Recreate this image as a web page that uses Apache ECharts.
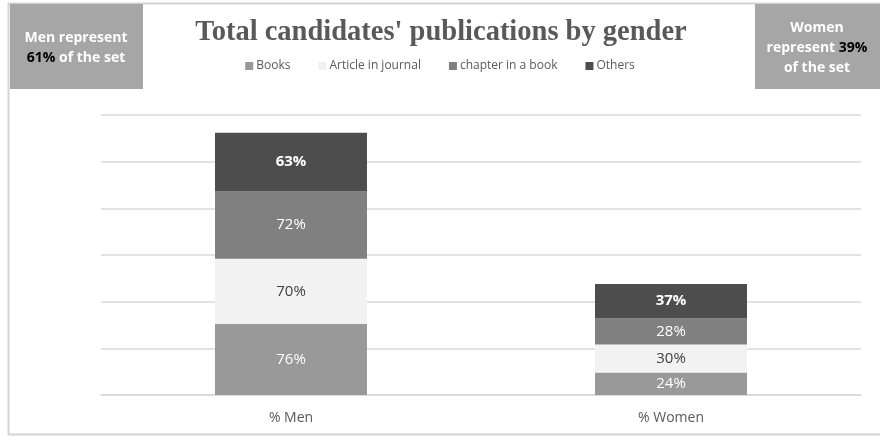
<!DOCTYPE html>
<html>
<head>
<meta charset="utf-8">
<script src="https://cdn.jsdelivr.net/npm/echarts@6/dist/echarts.min.js"></script>
<style>
  html, body { margin: 0; padding: 0; background: #ffffff; }
  #chart { width: 880px; height: 440px; }
</style>
</head>
<body>
<div id="chart"></div>
<script>
// Publications by gender, shares per publication type
const categories = ['% Men', '% Women'];
const seriesNames = ['Books', 'Article in journal', 'chapter in a book', 'Others'];
const books = [76, 24];
const articles = [70, 30];
const chapters = [72, 28];
const others = [63, 37];
const menShare = '61%';
const womenShare = '39%';

const colors = ['#999999', '#f2f2f2', '#808080', '#4d4d4d'];
const labelColors = ['#ffffff', '#404040', '#ffffff', '#ffffff'];
const labelWeights = ['normal', 'normal', 'normal', 'bold'];
const values = [books, articles, chapters, others];

const chart = echarts.init(document.getElementById('chart'));

const series = seriesNames.map((name, i) => ({
  name: name,
  type: 'bar',
  stack: 'total',
  barWidth: '40%',
  data: values[i],
  itemStyle: { color: colors[i] },
  label: {
    show: true,
    position: 'inside',
    formatter: '{c}%',
    color: labelColors[i],
    fontWeight: labelWeights[i],
    fontSize: 15,
    fontFamily: '"Open Sans", sans-serif'
  }
}));

const boxText = {
  w: { fill: '#ffffff', fontWeight: 'bold', fontSize: 14, fontFamily: '"Open Sans", sans-serif', lineHeight: 20 },
  b: { fill: '#000000', fontWeight: 'bold', fontSize: 14, fontFamily: '"Open Sans", sans-serif', lineHeight: 20 }
};

chart.setOption({
  animation: false,
  backgroundColor: '#ffffff',
  title: {
    text: "Total candidates' publications by gender",
    left: 436,
    textAlign: 'center',
    top: 13,
    textStyle: {
      fontFamily: '"Liberation Serif", "DejaVu Serif", serif',
      fontWeight: 'bold',
      fontSize: 28.5,
      color: '#595959'
    }
  },
  legend: {
    top: 55,
    left: 'center',
    itemWidth: 8,
    itemHeight: 8,
    itemGap: 28,
    icon: 'rect',
    textStyle: {
      fontFamily: '"Open Sans", sans-serif',
      fontSize: 12,
      color: '#595959',
      padding: [0, 0, 0, -2]
    },
    data: seriesNames
  },
  grid: { left: 101, right: 19, top: 115, bottom: 45 },
  xAxis: {
    type: 'category',
    data: categories,
    axisTick: { show: false },
    axisLine: { lineStyle: { color: '#d9d9d9', width: 1.5 } },
    axisLabel: {
      color: '#595959',
      fontSize: 14,
      margin: 16,
      fontFamily: '"Open Sans", sans-serif'
    }
  },
  yAxis: {
    type: 'value',
    min: 0,
    max: 300,
    interval: 50,
    axisLabel: { show: false },
    axisLine: { show: false },
    axisTick: { show: false },
    splitLine: { lineStyle: { color: '#d9d9d9', width: 1.5 } }
  },
  graphic: [
    {
      type: 'rect',
      z: -10,
      shape: { x: 8.5, y: 3.5, width: 880, height: 431 },
      style: { fill: '#ffffff', stroke: '#d4d4d4', lineWidth: 2 }
    },
    {
      type: 'rect',
      shape: { x: 10, y: 4, width: 133, height: 85 },
      style: { fill: '#a6a6a6' }
    },
    {
      type: 'text',
      x: 76,
      y: 48,
      style: {
        text: '{w|Men represent}\n{b|' + menShare + '}{w| of the set}',
        align: 'center',
        verticalAlign: 'middle',
        lineHeight: 20,
        rich: boxText
      }
    },
    {
      type: 'rect',
      shape: { x: 755, y: 4, width: 125, height: 85 },
      style: { fill: '#a6a6a6' }
    },
    {
      type: 'text',
      x: 817,
      y: 48,
      style: {
        text: '{w|Women}\n{w|represent }{b|' + womenShare + '}\n{w|of the set}',
        align: 'center',
        verticalAlign: 'middle',
        lineHeight: 20,
        rich: boxText
      }
    }
  ],
  series: series
});
</script>
</body>
</html>
